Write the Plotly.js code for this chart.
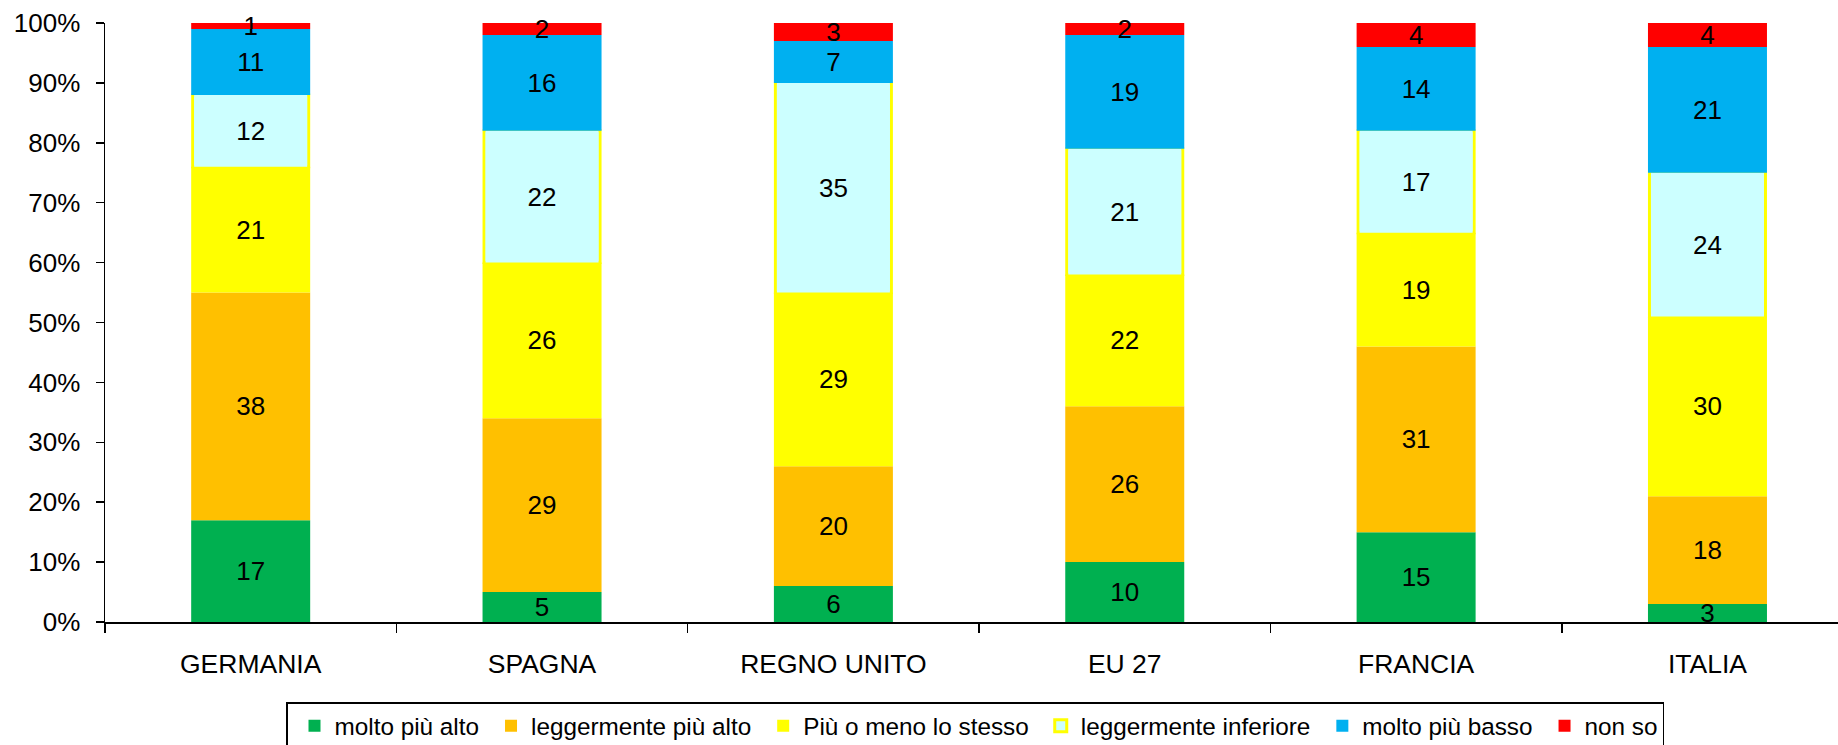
<!DOCTYPE html>
<html>
<head>
<meta charset="utf-8">
<script src="https://cdn.plot.ly/plotly-3.0.1.min.js"></script>
<style>
  html, body { margin: 0; padding: 0; background: #fff; }
  #chart { width: 1838px; height: 745px; }
</style>
</head>
<body>
<div id="chart"></div>
<script>
const categories = ['GERMANIA', 'SPAGNA', 'REGNO UNITO', 'EU 27', 'FRANCIA', 'ITALIA'];
const seriesNames = ['molto più alto', 'leggermente più alto', 'Più o meno lo stesso', 'leggermente inferiore', 'molto più basso', 'non so'];
const moltoPiuAlto = [17, 5, 6, 10, 15, 3];
const leggermentePiuAlto = [38, 29, 20, 26, 31, 18];
const piuOMenoStesso = [21, 26, 29, 22, 19, 30];
const leggermenteInferiore = [12, 22, 35, 21, 17, 24];
const moltoPiuBasso = [11, 16, 7, 19, 14, 21];
const nonSo = [1, 2, 3, 2, 4, 4];
const yTickVals = [0, 10, 20, 30, 40, 50, 60, 70, 80, 90, 100];

const seriesValues = [moltoPiuAlto, leggermentePiuAlto, piuOMenoStesso, leggermenteInferiore, moltoPiuBasso, nonSo];
const colors = ['#00B050', '#FFC000', '#FFFF00', '#CCFFFF', '#00B0F0', '#FF0000'];
const EDGE = '#FFFF00';

const FONT = 'Liberation Sans, Arial, sans-serif';

// geometry (category units)
const PX_PER_CAT = 1733 / 5.948;
const BAR_W = 119 / PX_PER_CAT;
const px = p => p / PX_PER_CAT;

// stacked bases from the data
const bases = [];
let running = categories.map(() => 0);
seriesValues.forEach(vals => {
  bases.push(running.slice());
  running = running.map((r, j) => r + vals[j]);
});

const textfont = { family: FONT, size: 26, color: '#000' };
const traces = [];
seriesValues.forEach((vals, i) => {
  if (i === 3) {
    // outer bar with yellow border (also gives the legend symbol)
    traces.push({
      type: 'bar', name: seriesNames[i], x: categories, y: vals, base: bases[i],
      width: BAR_W - px(3),
      marker: { color: colors[i], line: { color: EDGE, width: 3 } },
      hoverinfo: 'skip', showlegend: true
    });
    // inner fill covering top/bottom edges
    traces.push({
      type: 'bar', name: seriesNames[i], x: categories, y: vals, base: bases[i],
      width: BAR_W - px(6),
      text: vals.map(String), textposition: 'inside', insidetextanchor: 'middle',
      textangle: 0, constraintext: 'none', cliponaxis: false, textfont: textfont,
      marker: { color: colors[i], line: { width: 0 } },
      hoverinfo: 'skip', showlegend: false
    });
  } else {
    traces.push({
      type: 'bar', name: seriesNames[i], x: categories, y: vals, base: bases[i],
      width: BAR_W,
      text: vals.map(String), textposition: 'inside', insidetextanchor: 'middle',
      textangle: 0, constraintext: 'none', cliponaxis: false, textfont: textfont,
      marker: { color: colors[i], line: { width: 0 } },
      hoverinfo: 'skip', showlegend: true
    });
  }
});

const layout = {
  width: 1838,
  height: 745,
  margin: { l: 105, r: 0, t: 23, b: 123, autoexpand: false },
  paper_bgcolor: '#fff',
  plot_bgcolor: '#fff',
  barmode: 'overlay',
  showlegend: true,
  uniformtext: { mode: 'show', minsize: 26 },
  font: { family: FONT, color: '#000' },
  xaxis: {
    type: 'category',
    range: [-0.5, 5.448],
    showline: true,
    linecolor: '#000',
    linewidth: 1.5,
    ticks: 'outside',
    tickson: 'boundaries',
    ticklen: 9,
    tickwidth: 1.5,
    tickcolor: '#000',
    ticklabelstandoff: 18,
    tickfont: { family: FONT, size: 26.5, color: '#000' },
    showgrid: false,
    zeroline: false,
    fixedrange: true
  },
  yaxis: {
    range: [0, 100],
    tickvals: yTickVals,
    ticktext: yTickVals.map(v => v + '%'),
    showline: true,
    linecolor: '#000',
    linewidth: 1.5,
    ticks: 'outside',
    ticklen: 8,
    tickwidth: 1.5,
    tickcolor: '#000',
    ticklabelstandoff: 10,
    tickfont: { family: FONT, size: 26, color: '#000' },
    showgrid: false,
    zeroline: false,
    fixedrange: true
  },
  legend: {
    orientation: 'h',
    x: (286 - 105) / 1733,
    xanchor: 'left',
    y: (622 - 702) / 599,
    yanchor: 'top',
    indentation: 7,
    bordercolor: '#000',
    borderwidth: 1.5,
    bgcolor: '#fff',
    font: { family: FONT, size: 24.3, color: '#000' },
    traceorder: 'normal',
    itemclick: false,
    itemdoubleclick: false
  }
};

Plotly.newPlot('chart', traces, layout, { displayModeBar: false, staticPlot: true });
</script>
</body>
</html>
